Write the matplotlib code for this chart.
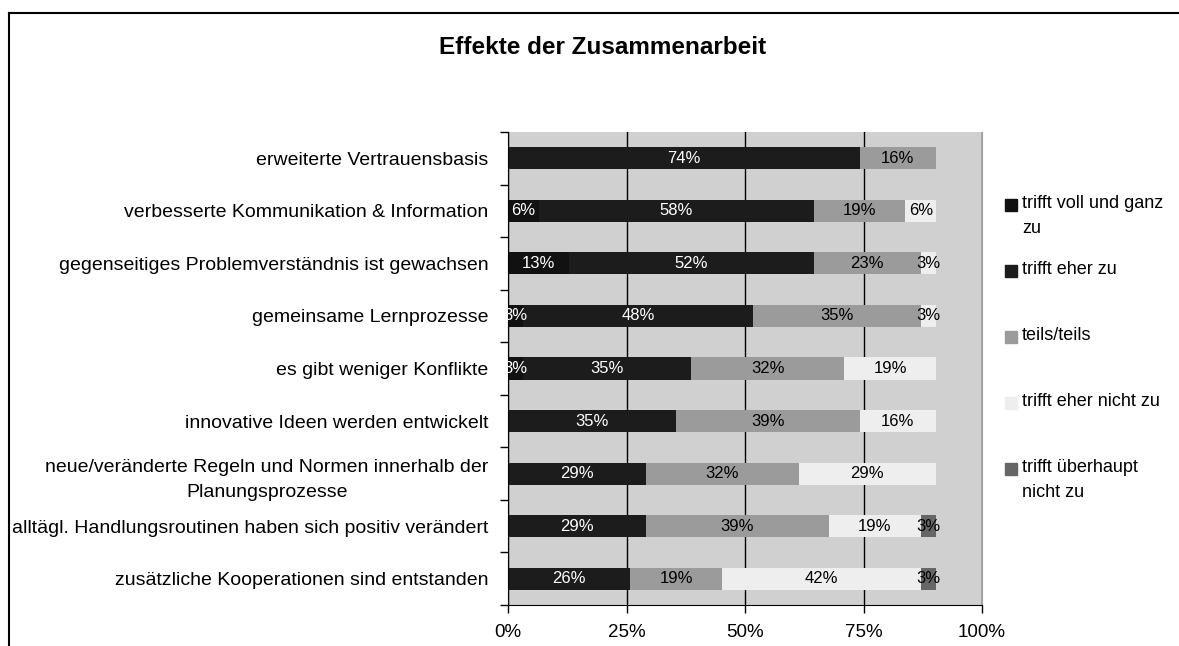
import numpy as np
import matplotlib.pyplot as plt
from matplotlib.patches import Rectangle
from matplotlib.lines import Line2D

plt.rcParams['font.family'] = ['Liberation Sans', 'DejaVu Sans']

categories = [
    "erweiterte Vertrauensbasis",
    "verbesserte Kommunikation & Information",
    "gegenseitiges Problemverständnis ist gewachsen",
    "gemeinsame Lernprozesse",
    "es gibt weniger Konflikte",
    "innovative Ideen werden entwickelt",
    "neue/veränderte Regeln und Normen innerhalb der\nPlanungsprozesse",
    "alltägl. Handlungsroutinen haben sich positiv verändert",
    "zusätzliche Kooperationen sind entstanden",
]

series_names = ["trifft voll und ganz\nzu", "trifft eher zu", "teils/teils",
                "trifft eher nicht zu", "trifft überhaupt\nnicht zu"]

voll = [0, 6.45, 12.90, 3.23, 3.23, 0, 0, 0, 0]
eher = [74.19, 58.06, 51.61, 48.39, 35.48, 35.48, 29.03, 29.03, 25.81]
teils = [16.13, 19.35, 22.58, 35.48, 32.26, 38.71, 32.26, 38.71, 19.35]
eher_nicht = [0, 6.45, 3.23, 3.23, 19.35, 16.13, 29.03, 19.35, 41.94]
gar_nicht = [0, 0, 0, 0, 0, 0, 0, 3.23, 3.23]

colors = ['#111111', '#1c1c1c', '#9b9b9b', '#eeeeee', '#666666']
text_colors = ['white', 'white', 'black', 'black', 'black']

fig = plt.figure(figsize=(11.79, 6.46), dpi=100)
ax = fig.add_axes([508/1179, 1-605/646, 474/1179, 473/646])
ax.set_facecolor('#d0d0d0')

y = np.arange(len(categories))
left = np.zeros(len(categories))
for vals, c, tc in zip([voll, eher, teils, eher_nicht, gar_nicht], colors, text_colors):
    vals = np.array(vals)
    ax.barh(y, vals, left=left, height=0.42, color=c, zorder=2)
    for yi, l, v in zip(y, left, vals):
        if v > 0:
            ax.text(l + v/2, yi, f"{v:.0f}%", ha='center', va='center',
                    color=tc, fontsize=12, zorder=3, clip_on=True)
    left += vals

ax.set_xlim(0, 100)
ax.set_ylim(len(categories) - 0.5, -0.5)
ax.set_xticks([0, 25, 50, 75, 100])
ax.set_xticklabels(["0%", "25%", "50%", "75%", "100%"])
ax.set_yticks(y)
ax.set_yticklabels(categories, ha='right', multialignment='center', linespacing=1.65)
ax.set_yticks(np.arange(-0.5, len(categories)), minor=True)
ax.tick_params(axis='y', which='major', length=0, pad=14, labelsize=14)
ax.tick_params(axis='y', which='minor', length=6, width=1, direction='out')
ax.tick_params(axis='x', length=6, width=1, direction='out', pad=8, labelsize=13.5)
ax.xaxis.grid(True, color='black', lw=1, zorder=1)
ax.set_axisbelow(True)
ax.spines['top'].set_visible(False)
ax.spines['right'].set_color('#a0a0a0')
ax.spines['left'].set_color('black')
ax.spines['bottom'].set_color('black')

fig.text(603/1179, 1-47/646, "Effekte der Zusammenarbeit", ha='center', va='center',
         fontsize=17.5, fontweight='bold')

# legend
leg_y = [205, 271, 337, 403, 469]
for name, c, yy in zip(series_names, colors, leg_y):
    fig.patches.append(Rectangle((1005/1179, 1-(yy+6)/646), 12/1179, 12/646,
                                 transform=fig.transFigure, color=c))
    fig.text(1022/1179, 1-(yy-10)/646, name, ha='left', va='top', fontsize=13,
             linespacing=1.6)

# chart frame
fig.add_artist(Line2D([9/1179, 9/1179], [0, 1-13/646], transform=fig.transFigure, color='black', lw=1.5))
fig.add_artist(Line2D([9/1179, 1], [1-13/646, 1-13/646], transform=fig.transFigure, color='black', lw=1.5))

fig.savefig("out.png", dpi=100)
